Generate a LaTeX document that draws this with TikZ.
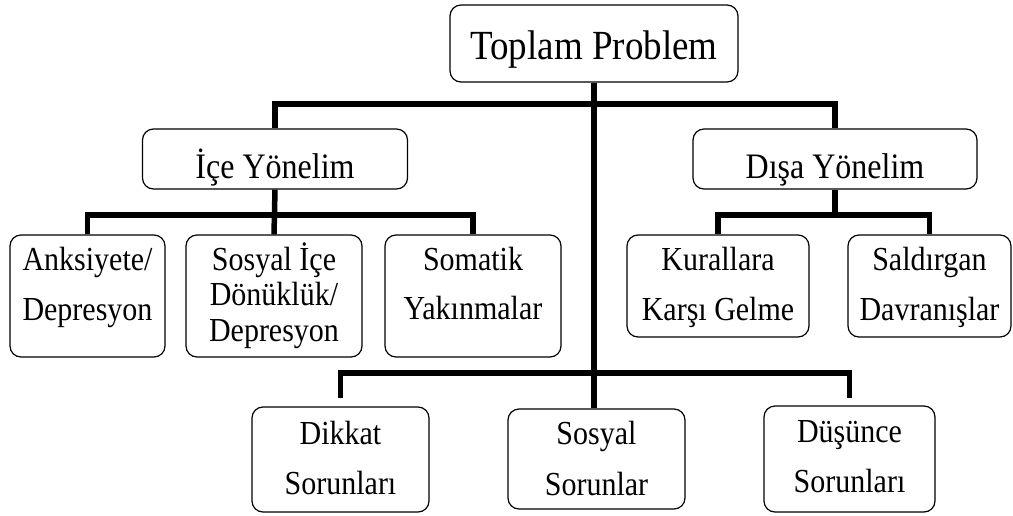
\documentclass[tikz,border=0pt]{standalone}
\usepackage{graphicx}
\usepackage{fontspec}
\setmainfont{Liberation Serif}
\newcommand\mlines[2]{\vtop{\baselineskip=#1\relax\lineskiplimit=-100pt\halign{\hfil##\hfil\cr#2\crcr}}}
\newcommand\st[1]{\scalebox{1}[1.12]{#1}}
\tikzset{
  box/.style={draw, line width=1.2pt, rounded corners=11pt, inner sep=0pt, fill=white},
  leaf/.style={box, font=\fontsize{30}{36}\selectfont, text height=20pt},
  mid/.style={box, font=\fontsize{32}{38}\selectfont, minimum width=#1, minimum height=60pt, text height=38pt, text depth=0pt},
  bus/.style={line width=5.5pt, line join=miter}
}
\begin{document}
\begin{tikzpicture}[x=1pt,y=-1pt]
\useasboundingbox (0,0) rectangle (1013,515);

% nodes
\node[box, font=\fontsize{37}{44}\selectfont, minimum width=288pt, minimum height=77pt, text height=31pt, text depth=0pt] (top) at (594,43.5) {\st{Toplam Problem}};
\node[mid=265pt] (ice) at (275,159) {\st{İçe Yönelim}};
\node[mid=284pt] (disa) at (835,159) {\st{Dışa Yönelim}};

\node[leaf, minimum width=155pt, minimum height=122pt, text depth=72pt] (anks) at (87.5,296) {\st{\mlines{45.5pt}{Anksiyete/\cr Depresyon}}};
\node[leaf, minimum width=176pt, minimum height=122pt, text depth=72pt] (sosic) at (274,296) {\st{\mlines{32.1pt}{Sosyal İçe\cr Dönüklük/\cr Depresyon}}};
\node[leaf, minimum width=176pt, minimum height=122pt, text depth=72pt] (somatik) at (473,296) {\st{\mlines{44.6pt}{Somatik\cr Yakınmalar}}};

\node[leaf, minimum width=182pt, minimum height=102pt, text depth=52pt] (kural) at (718,286) {\st{\mlines{45.5pt}{Kurallara\cr Karşı Gelme}}};
\node[leaf, minimum width=163pt, minimum height=102pt, text depth=52pt] (saldir) at (929.5,286) {\st{\mlines{45.5pt}{Saldırgan\cr Davranışlar}}};

\node[leaf, minimum width=177pt, minimum height=105pt, text depth=51pt] (dikkat) at (340.5,459.5) {\st{\mlines{45.5pt}{Dikkat\cr Sorunları}}};
\node[leaf, minimum width=177pt, minimum height=100pt, text depth=50pt] (sosyal) at (596.5,459) {\st{\mlines{46.4pt}{Sosyal\cr Sorunlar}}};
\node[leaf, minimum width=171pt, minimum height=106pt, text depth=54pt] (dusunce) at (849.5,459) {\st{\mlines{45.5pt}{Düşünce\cr Sorunları}}};

% bus levels
\coordinate (b1) at (0,104);
\coordinate (b2) at (0,215);
\coordinate (b3) at (0,373);
\coordinate (d3) at (0,398);

% connectors
\draw[bus] (top.south) -- (top.south |- sosyal.north);
\draw[bus] (ice.north) -- (ice.north |- b1) -- (disa.north |- b1) -- (disa.north);

\draw[bus] (ice.south) -- (sosic.north);
\draw[bus] (anks.north) -- (anks.north |- b2) -- (somatik.north |- b2) -- (somatik.north);

\draw[bus] (disa.south) -- (disa.south |- b2);
\draw[bus] (kural.north) -- (kural.north |- b2) -- (saldir.north |- b2) -- (saldir.north);

\draw[bus] (dikkat.north |- d3) -- (dikkat.north |- b3) -- (dusunce.north |- b3) -- (dusunce.north |- d3);
\end{tikzpicture}
\end{document}
